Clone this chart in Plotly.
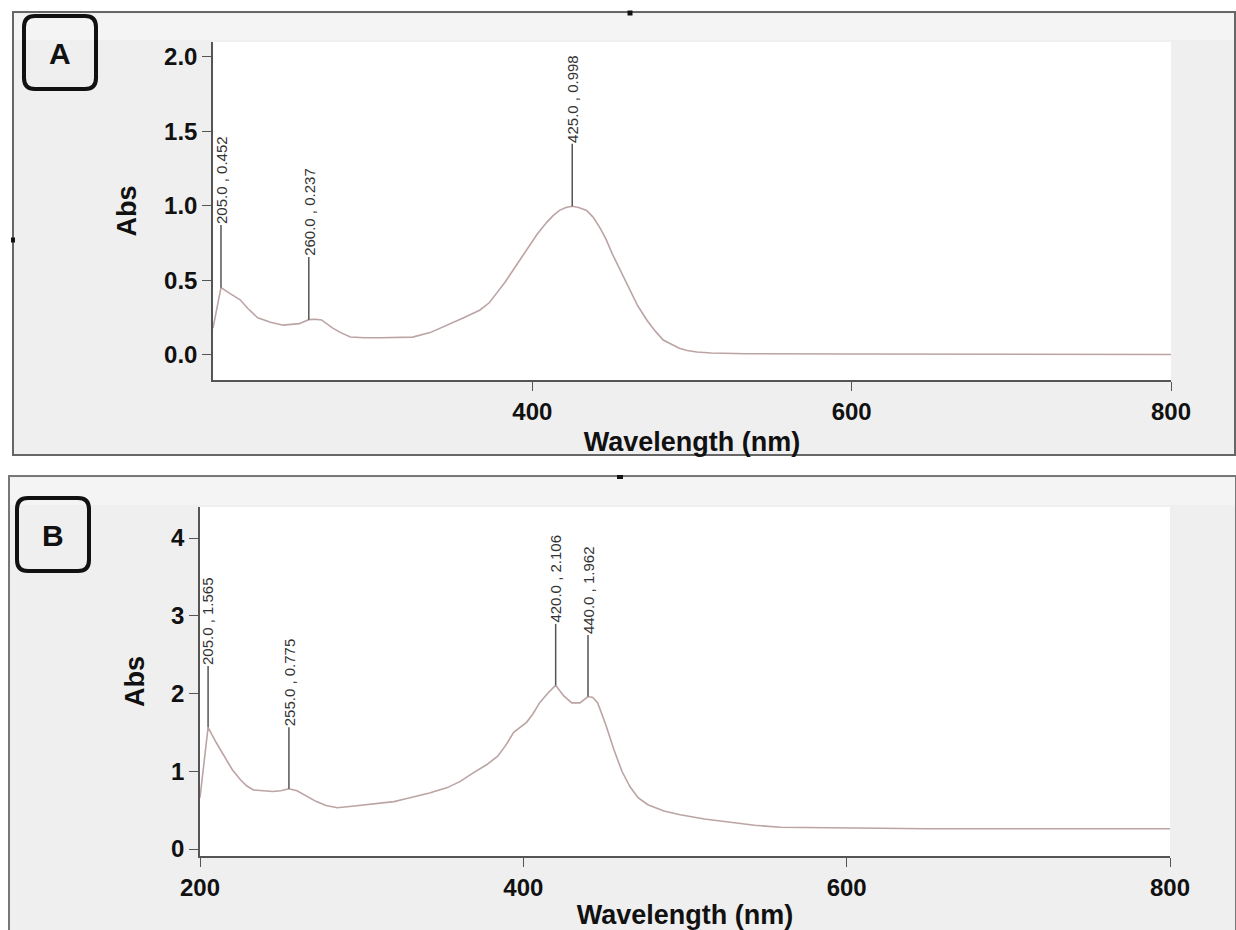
import plotly.graph_objects as go

# ---------------- data ----------------
A_wl = [200, 205, 211, 217, 222, 228, 236, 244, 254, 260, 264, 268, 275, 280, 286, 295, 305, 315, 325, 336, 347, 357, 367, 373, 378, 383, 388, 393, 398, 403, 409, 413, 417, 421, 425, 429, 434, 438, 442, 446, 450, 455, 461, 466, 472, 477, 482, 487, 492, 497, 503, 512, 534, 600, 650, 700, 750, 800]
A_abs = [0.18, 0.452, 0.41, 0.37, 0.31, 0.25, 0.22, 0.20, 0.21, 0.237, 0.24, 0.235, 0.18, 0.15, 0.12, 0.115, 0.115, 0.115, 0.12, 0.15, 0.20, 0.25, 0.30, 0.35, 0.42, 0.49, 0.57, 0.65, 0.73, 0.81, 0.89, 0.935, 0.97, 0.99, 0.998, 0.99, 0.97, 0.925, 0.86, 0.78, 0.68, 0.57, 0.44, 0.33, 0.23, 0.16, 0.10, 0.07, 0.045, 0.03, 0.02, 0.013, 0.008, 0.006, 0.005, 0.004, 0.004, 0.003]

B_wl = [200, 205, 210, 216, 220, 225, 229, 233, 240, 245, 250, 255, 260, 266, 272, 278, 285, 294, 303, 312, 320, 326, 332, 342, 353, 361, 369, 377, 384, 389, 394, 398, 402, 406, 410, 415, 420, 425, 430, 435, 440, 443, 446, 451, 456, 461, 466, 471, 477, 487, 497, 512, 528, 543, 559, 575, 590, 620, 650, 700, 750, 800]
B_abs = [0.66, 1.565, 1.37, 1.15, 1.02, 0.89, 0.81, 0.76, 0.745, 0.74, 0.75, 0.775, 0.75, 0.68, 0.61, 0.56, 0.53, 0.55, 0.57, 0.59, 0.61, 0.64, 0.67, 0.72, 0.79, 0.87, 0.98, 1.08, 1.19, 1.33, 1.50, 1.57, 1.63, 1.74, 1.88, 2.00, 2.106, 1.97, 1.88, 1.88, 1.962, 1.95, 1.88, 1.60, 1.28, 1.00, 0.80, 0.66, 0.57, 0.49, 0.44, 0.385, 0.34, 0.305, 0.28, 0.275, 0.27, 0.265, 0.26, 0.26, 0.26, 0.26]

A_peak_wl = [205.0, 260.0, 425.0]
A_peak_abs = [0.452, 0.237, 0.998]
B_peak_wl = [205.0, 255.0, 420.0, 440.0]
B_peak_abs = [1.565, 0.775, 2.106, 1.962]

A_xticks = [400, 600, 800]
A_yticks = [0.0, 0.5, 1.0, 1.5, 2.0]
B_xticks = [200, 400, 600, 800]
B_yticks = [0, 1, 2, 3, 4]

# ---------------- layout helpers ----------------
W, H = 1236, 930


def px(x):
    return x / W


def py(y):
    return 1 - y / H


def rounded_rect(x0, y0, x1, y1, r):
    X0, X1 = px(x0), px(x1)
    Y0, Y1 = py(y0), py(y1)
    rx, ry = r / W, r / H
    return (f"M {X0+rx},{Y0} L {X1-rx},{Y0} Q {X1},{Y0} {X1},{Y0-ry} "
            f"L {X1},{Y1+ry} Q {X1},{Y1} {X1-rx},{Y1} L {X0+rx},{Y1} "
            f"Q {X0},{Y1} {X0},{Y1+ry} L {X0},{Y0-ry} Q {X0},{Y0} {X0+rx},{Y0} Z")


CURVE = "#bca4a4"
STEM = "#555555"
AXIS = "#555555"
TXT = "#111111"

fig = go.Figure()
fig.add_trace(go.Scatter(x=A_wl, y=A_abs, mode="lines", xaxis="x", yaxis="y",
                         line=dict(color=CURVE, width=1.6), showlegend=False, hoverinfo="x+y"))
fig.add_trace(go.Scatter(x=B_wl, y=B_abs, mode="lines", xaxis="x2", yaxis="y2",
                         line=dict(color=CURVE, width=1.6), showlegend=False, hoverinfo="x+y"))

shapes = []
# panel backgrounds
shapes.append(dict(type="rect", xref="paper", yref="paper", x0=px(13), x1=px(1235), y0=py(455), y1=py(12),
                   fillcolor="#efefef", line=dict(color="#666666", width=2), layer="below"))
shapes.append(dict(type="rect", xref="paper", yref="paper", x0=px(9), x1=px(1236), y0=py(940), y1=py(476),
                   fillcolor="#efefef", line=dict(color="#777777", width=2), layer="below"))
# lighter header strips
shapes.append(dict(type="rect", xref="paper", yref="paper", x0=px(14), x1=px(1234), y0=py(40), y1=py(14),
                   fillcolor="#f4f4f4", line=dict(width=0), layer="below"))
shapes.append(dict(type="rect", xref="paper", yref="paper", x0=px(10), x1=px(1235), y0=py(505), y1=py(478),
                   fillcolor="#f4f4f4", line=dict(width=0), layer="below"))
# white plot areas
for xr, yr in (("x", "y"), ("x2", "y2")):
    shapes.append(dict(type="rect", xref=f"{xr} domain", yref=f"{yr} domain", x0=0, x1=1, y0=0, y1=1,
                       fillcolor="white", line=dict(width=0), layer="below"))
# small marks on borders
for (mx, my, w, h) in ((630, 13, 5, 5), (620, 477, 6, 4), (13, 240, 4, 5)):
    shapes.append(dict(type="rect", xref="paper", yref="paper", x0=px(mx - w / 2), x1=px(mx + w / 2),
                       y0=py(my + h / 2), y1=py(my - h / 2), fillcolor="#111111", line=dict(width=0)))
# panel label boxes
shapes.append(dict(type="path", xref="paper", yref="paper", path=rounded_rect(24, 16, 96, 89, 11),
                   line=dict(color="#111111", width=4), fillcolor="rgba(0,0,0,0)"))
shapes.append(dict(type="path", xref="paper", yref="paper", path=rounded_rect(17, 498, 89, 571, 11),
                   line=dict(color="#111111", width=4), fillcolor="rgba(0,0,0,0)"))

annotations = []
ann_font = dict(family="Liberation Sans Narrow, Arial Narrow, Arial", size=15, color="#333333")
A_stem = 0.42
B_stem = 0.79
for wl, ab in zip(A_peak_wl, A_peak_abs):
    shapes.append(dict(type="line", xref="x", yref="y", x0=wl, x1=wl, y0=ab, y1=ab + A_stem,
                       line=dict(color=STEM, width=1.5)))
    annotations.append(dict(xref="x", yref="y", x=wl, y=ab + A_stem, text=f"{wl:.1f} , {ab:.3f}",
                            textangle=-90, showarrow=False, xanchor="center", yanchor="bottom",
                            font=ann_font, borderpad=0))
for wl, ab in zip(B_peak_wl, B_peak_abs):
    shapes.append(dict(type="line", xref="x2", yref="y2", x0=wl, x1=wl, y0=ab, y1=ab + B_stem,
                       line=dict(color=STEM, width=1.5)))
    annotations.append(dict(xref="x2", yref="y2", x=wl, y=ab + B_stem, text=f"{wl:.1f} , {ab:.3f}",
                            textangle=-90, showarrow=False, xanchor="center", yanchor="bottom",
                            font=ann_font, borderpad=0))

# panel letters
annotations.append(dict(xref="paper", yref="paper", x=px(60), y=py(53), text="A", showarrow=False,
                        xanchor="center", yanchor="middle",
                        font=dict(family="Arial", size=30, color=TXT, weight="bold")))
annotations.append(dict(xref="paper", yref="paper", x=px(53), y=py(535), text="B", showarrow=False,
                        xanchor="center", yanchor="middle",
                        font=dict(family="Arial", size=30, color=TXT, weight="bold")))

tick_font = dict(family="Arial", size=24, color=TXT, weight="bold")
title_font = dict(family="Arial", size=27, color=TXT, weight="bold")

common_x = dict(showline=True, linecolor=AXIS, linewidth=1.5, ticks="outside", ticklen=9, tickwidth=1.2,
                tickcolor=AXIS, showgrid=False, zeroline=False, tickfont=tick_font, range=[200, 800],
                automargin=False)
common_y = dict(showline=True, linecolor=AXIS, linewidth=1.5, ticks="outside", ticklen=9, tickwidth=1.2,
                tickcolor=AXIS, showgrid=False, zeroline=False, tickfont=tick_font, automargin=False)

fig.update_layout(
    width=W, height=H, margin=dict(l=0, r=0, t=0, b=0, autoexpand=False),
    paper_bgcolor="white", plot_bgcolor="white", showlegend=False,
    xaxis=dict(common_x, domain=[px(213), px(1171)], anchor="y", tickvals=A_xticks,
               title=dict(text="Wavelength (nm)", font=title_font, standoff=9)),
    yaxis=dict(common_y, domain=[py(380), py(42)], anchor="x", range=[-0.168, 2.10], tickvals=A_yticks,
               tickformat=".1f", title=dict(text="Abs", font=title_font, standoff=20)),
    xaxis2=dict(common_x, domain=[px(200), px(1170)], anchor="y2", tickvals=B_xticks,
                title=dict(text="Wavelength (nm)", font=title_font, standoff=9)),
    yaxis2=dict(common_y, domain=[py(856), py(507)], anchor="x2", range=[-0.09, 4.4], tickvals=B_yticks,
                title=dict(text="Abs", font=title_font, standoff=19)),
    shapes=shapes, annotations=annotations,
)

fig.write_html("out.html")
